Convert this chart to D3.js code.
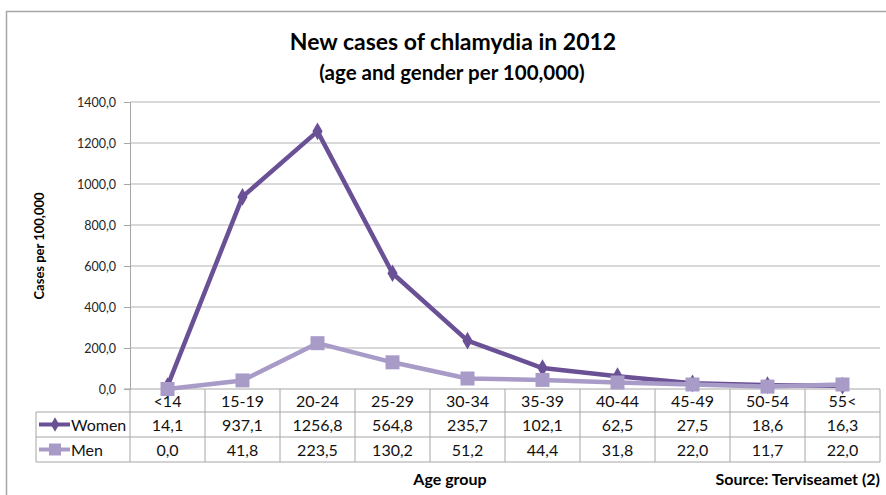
<!DOCTYPE html>
<html><head><meta charset="utf-8">
<script src="https://cdn.jsdelivr.net/npm/d3@7"></script>
<style>
body{margin:0;background:#fff;}
svg{display:block;font-family:Lato,"Open Sans",sans-serif;}
</style></head><body>
<svg id="c" width="886" height="495"></svg>
<script>
const categories = ["<14","15-19","20-24","25-29","30-34","35-39","40-44","45-49","50-54","55<"];
const women = [14.1,937.1,1256.8,564.8,235.7,102.1,62.5,27.5,18.6,16.3];
const men = [0.0,41.8,223.5,130.2,51.2,44.4,31.8,22.0,11.7,22.0];
const yTicks = [0,200,400,600,800,1000,1200,1400];
const seriesNames = ["Women","Men"];
const colors = ["#6A5196","#A99BC8"];

(function(){
const svg = d3.select("#c");
const fmt = v => d3.format(".1f")(v).replace(".", ",");

svg.append("rect").attr("x",6.5).attr("y",11.5).attr("width",900).attr("height",500)
  .attr("fill","none").attr("stroke","#a6a6a6").attr("stroke-width",1.5);

svg.append("text").attr("x",453).attr("y",50).attr("text-anchor","middle")
  .attr("font-weight","bold").attr("font-size",23).attr("fill","#000").text("New cases of chlamydia in 2012");
svg.append("text").attr("x",452).attr("y",80).attr("text-anchor","middle")
  .attr("font-weight","bold").attr("font-size",20.5).attr("fill","#000").text("(age and gender per 100,000)");

const pL=130, pR=880, pT=102, pB=389;
const x = d3.scaleBand().domain(categories).range([pL,pR]);
const y = d3.scaleLinear().domain([0,1400]).range([pB,pT]);

svg.append("g").selectAll("line").data(yTicks.filter(d=>d>0)).join("line")
  .attr("x1",pL).attr("x2",pR).attr("y1",d=>y(d)).attr("y2",d=>y(d))
  .attr("stroke","#b3b3b3").attr("stroke-width",1);

const yAxis = svg.append("g").attr("transform",`translate(${pL},0)`)
  .call(d3.axisLeft(y).tickValues(yTicks).tickFormat(fmt).tickSize(6).tickPadding(8));
yAxis.select(".domain").attr("stroke","#a6a6a6");
yAxis.selectAll(".tick line").attr("stroke","#a6a6a6");
yAxis.selectAll(".tick text").attr("font-family","Lato,sans-serif").attr("font-size",12.5).attr("fill","#262626");

svg.append("line").attr("x1",pL-6).attr("x2",pR).attr("y1",pB).attr("y2",pB)
  .attr("stroke","#a6a6a6");

svg.append("text").attr("transform","translate(44,246) rotate(-90)").attr("text-anchor","middle")
  .attr("font-weight","bold").attr("font-size",13).attr("fill","#000").text("Cases per 100,000");

const rowH = [389,412,437,462];
const tg = svg.append("g");
const lineC = "#a6a6a6";
const bounds = categories.map(c=>x(c)).concat([pR]);
tg.selectAll("line.v").data(bounds).join("line").attr("class","v")
  .attr("x1",d=>d).attr("x2",d=>d).attr("y1",rowH[0]).attr("y2",rowH[3]).attr("stroke",lineC);
[rowH[1],rowH[2],rowH[3]].forEach(yy=>{
  tg.append("line").attr("x1",36).attr("x2",pR).attr("y1",yy).attr("y2",yy).attr("stroke",lineC);
});
tg.append("line").attr("x1",36).attr("x2",36).attr("y1",rowH[1]).attr("y2",rowH[3]).attr("stroke",lineC);

tg.selectAll("text.cat").data(categories).join("text").attr("class","cat")
  .attr("x",d=>x(d)+x.bandwidth()/2).attr("y",407).attr("text-anchor","middle")
  .attr("font-size",16).attr("fill","#111").text(d=>d);

const allSeries=[women,men];
allSeries.forEach((vals,si)=>{
  const cy = (rowH[si+1]+rowH[si+2])/2;
  tg.selectAll("text.v"+si).data(vals).join("text").attr("class","v"+si)
    .attr("x",(d,i)=>x(categories[i])+x.bandwidth()/2).attr("y",cy+6).attr("text-anchor","middle")
    .attr("font-size",16).attr("fill","#111").text(d=>fmt(d));
  tg.append("line").attr("x1",39).attr("x2",70).attr("y1",cy).attr("y2",cy)
    .attr("stroke",colors[si]).attr("stroke-width",4);
  if(si===0){
    tg.append("path").attr("d",d3.symbol(d3.symbolDiamond,60)()).attr("transform",`translate(55,${cy})`).attr("fill",colors[si]);
  } else {
    tg.append("rect").attr("x",49).attr("y",cy-6).attr("width",12).attr("height",12).attr("fill",colors[si]);
  }
  tg.append("text").attr("x",71).attr("y",cy+6).attr("font-size",16).attr("fill","#111").text(seriesNames[si]);
});

const line = d3.line().x((d,i)=>x(categories[i])+x.bandwidth()/2).y(d=>y(d));
[0,1].forEach(si=>{
  const vals=allSeries[si];
  svg.append("path").datum(vals).attr("d",line).attr("fill","none")
    .attr("stroke",colors[si]).attr("stroke-width",4.5).attr("stroke-linejoin","round");
  const g=svg.append("g");
  if(si===0){
    g.selectAll("path").data(vals).join("path").attr("d",d3.symbol(d3.symbolDiamond,90)())
      .attr("transform",(d,i)=>`translate(${x(categories[i])+x.bandwidth()/2},${y(d)})`).attr("fill",colors[si]);
  } else {
    g.selectAll("rect").data(vals).join("rect")
      .attr("x",(d,i)=>x(categories[i])+x.bandwidth()/2-7).attr("y",d=>y(d)-7)
      .attr("width",14).attr("height",14).attr("fill",colors[si]);
  }
});

svg.append("text").attr("x",450).attr("y",485).attr("text-anchor","middle")
  .attr("font-weight","bold").attr("font-size",16).attr("fill","#000").text("Age group");
svg.append("text").attr("x",880).attr("y",485).attr("text-anchor","end")
  .attr("font-weight","bold").attr("font-size",16).attr("fill","#000").text("Source: Terviseamet (2)");
})();
</script>
</body></html>
